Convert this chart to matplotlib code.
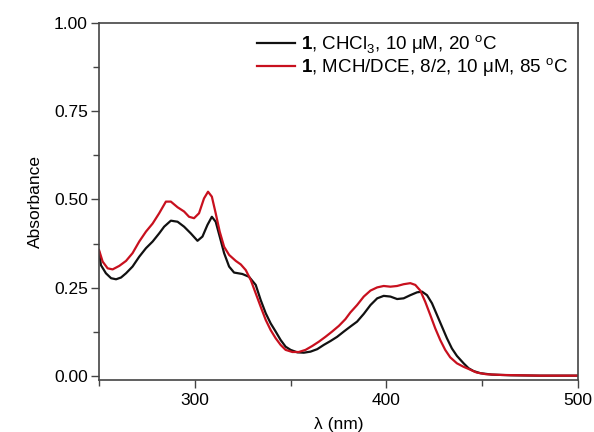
import matplotlib
matplotlib.use("Agg")
import matplotlib.pyplot as plt
from matplotlib.ticker import MultipleLocator

plt.rcParams['font.family'] = ['Liberation Sans', 'DejaVu Sans']
plt.rcParams['mathtext.fontset'] = 'custom'
plt.rcParams['mathtext.rm'] = 'Liberation Sans'
plt.rcParams['mathtext.bf'] = 'Liberation Sans:bold'

# 1 in CHCl3, 10 uM, 20 C
wl_chcl3 = [250, 251.0, 253.6, 256.3, 258.9, 261.5, 264.1, 267.5, 271.0, 274.5, 278.0,
            281.4, 284.0, 287.5, 291.0, 294.4, 297.9, 301.4, 304.0, 306.6, 308.9, 310.9,
            313.0, 315.3, 317.9, 320.5, 324.8, 328.3, 331.8, 334.4, 337.0, 339.6, 342.2,
            344.8, 347.4, 350.0, 353.5, 356.9, 360.4, 363.9, 367.3, 370.8, 374.3, 377.8,
            381.2, 384.7, 388.2, 391.7, 395.2, 398.6, 402.1, 405.6, 409.0, 412.5, 416.0,
            418.6, 421.2, 423.8, 426.4, 429.0, 431.6, 434.2, 436.8, 440.3, 442.9, 445.5,
            449, 455, 465, 480, 500]
abs_chcl3 = [0.352, 0.314, 0.291, 0.277, 0.274, 0.279, 0.291, 0.310, 0.338, 0.362, 0.381,
             0.404, 0.423, 0.440, 0.437, 0.423, 0.404, 0.383, 0.395, 0.428, 0.451, 0.437,
             0.395, 0.348, 0.310, 0.293, 0.289, 0.281, 0.258, 0.215, 0.178, 0.149, 0.126,
             0.102, 0.083, 0.074, 0.067, 0.066, 0.069, 0.076, 0.088, 0.099, 0.111, 0.126,
             0.140, 0.154, 0.176, 0.201, 0.220, 0.227, 0.225, 0.218, 0.220, 0.229, 0.237,
             0.239, 0.229, 0.206, 0.173, 0.140, 0.107, 0.078, 0.057, 0.036, 0.022, 0.014,
             0.008, 0.004, 0.002, 0.001, 0.001]

# 1 in MCH/DCE 8/2, 10 uM, 85 C
wl_mch = [250, 251.9, 254.5, 257.1, 260.6, 264.1, 267.5, 271.0, 274.5, 278.0, 281.4,
          284.9, 287.5, 291.0, 294.4, 297.0, 299.6, 302.2, 304.8, 306.9, 308.9, 310.9,
          313.0, 315.3, 317.9, 321.4, 324.0, 326.6, 329.2, 331.8, 334.4, 337.0, 339.6,
          342.2, 344.8, 347.4, 350.9, 354.3, 357.8, 361.3, 364.7, 368.2, 371.7, 375.2,
          378.6, 381.2, 384.7, 388.2, 391.7, 395.2, 398.6, 402.1, 405.6, 409.0, 412.5,
          415.1, 417.7, 420.3, 422.9, 425.5, 428.1, 430.7, 433.3, 436.8, 440.3, 442.9,
          447, 452, 460, 480, 500]
abs_mch = [0.357, 0.324, 0.305, 0.302, 0.312, 0.326, 0.348, 0.381, 0.409, 0.432, 0.461,
           0.494, 0.494, 0.478, 0.466, 0.451, 0.447, 0.461, 0.503, 0.522, 0.508, 0.461,
           0.409, 0.366, 0.343, 0.326, 0.316, 0.300, 0.272, 0.234, 0.196, 0.159, 0.130,
           0.107, 0.088, 0.074, 0.068, 0.068, 0.074, 0.085, 0.097, 0.111, 0.126, 0.142,
           0.161, 0.180, 0.201, 0.225, 0.242, 0.251, 0.255, 0.253, 0.255, 0.260, 0.263,
           0.258, 0.242, 0.210, 0.173, 0.135, 0.102, 0.074, 0.053, 0.036, 0.026, 0.020,
           0.010, 0.005, 0.003, 0.001, 0.001]

labels = [r'$\mathbf{1}$, CHCl$_3$, 10 μM, 20 $^{\rm o}$C',
          r'$\mathbf{1}$, MCH/DCE, 8/2, 10 μM, 85 $^{\rm o}$C']

fig = plt.figure(figsize=(5.94, 4.32), dpi=100)
ax = fig.add_axes([0.1667, 0.1204, 0.8063, 0.8264])

ax.plot(wl_chcl3, abs_chcl3, color='#111111', lw=1.6, label=labels[0])
ax.plot(wl_mch, abs_mch, color='#c8101e', lw=1.6, label=labels[1])

ax.set_xlim(250, 500)
ax.set_ylim(-0.0113, 1.0)
ax.xaxis.set_major_locator(MultipleLocator(100))
ax.xaxis.set_minor_locator(MultipleLocator(50))
ax.yaxis.set_major_locator(MultipleLocator(0.25))
ax.yaxis.set_minor_locator(MultipleLocator(0.125))
ax.yaxis.set_major_formatter(plt.FormatStrFormatter('%.2f'))

for s in ax.spines.values():
    s.set_visible(True)
    s.set_color('#444444')
    s.set_linewidth(1.2)
ax.tick_params(which='both', direction='out', color='#444444', labelsize=12.5,
               top=False, right=False)
ax.tick_params(which='major', length=6, width=1)
ax.tick_params(which='minor', length=4, width=1)
ax.tick_params(axis='y', pad=2)

ax.set_xlabel('λ (nm)', fontsize=12.5, labelpad=6)
ax.set_ylabel('Absorbance', fontsize=12.5, labelpad=8)

ax.legend(loc='upper right', frameon=False, fontsize=13.5, handlelength=2.0,
          handletextpad=0.3, labelspacing=0.0, borderpad=0.15, borderaxespad=0.4)

fig.savefig('out.png', dpi=100)
